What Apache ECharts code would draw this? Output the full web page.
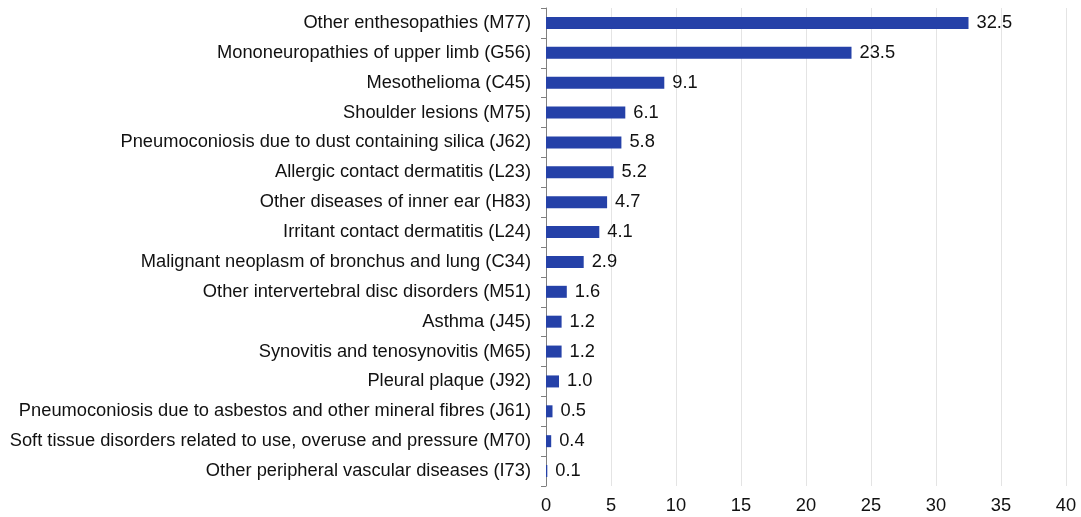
<!DOCTYPE html>
<html>
<head>
<meta charset="utf-8">
<script src="https://cdn.jsdelivr.net/npm/echarts@6/dist/echarts.min.js"></script>
<style>
  html, body { margin: 0; padding: 0; background: #fff; }
  #chart { width: 1081px; height: 517px; }
</style>
</head>
<body>
<div id="chart"></div>
<script>
const categories = [
    'Other enthesopathies (M77)',
    'Mononeuropathies of upper limb (G56)',
    'Mesothelioma (C45)',
    'Shoulder lesions (M75)',
    'Pneumoconiosis due to dust containing silica (J62)',
    'Allergic contact dermatitis (L23)',
    'Other diseases of inner ear (H83)',
    'Irritant contact dermatitis (L24)',
    'Malignant neoplasm of bronchus and lung (C34)',
    'Other intervertebral disc disorders (M51)',
    'Asthma (J45)',
    'Synovitis and tenosynovitis (M65)',
    'Pleural plaque (J92)',
    'Pneumoconiosis due to asbestos and other mineral fibres (J61)',
    'Soft tissue disorders related to use, overuse and pressure (M70)',
    'Other peripheral vascular diseases (I73)'
];
const values = [32.5, 23.5, 9.1, 6.1, 5.8, 5.2, 4.7, 4.1, 2.9, 1.6, 1.2, 1.2, 1.0, 0.5, 0.4, 0.1];

const myChart = echarts.init(document.getElementById('chart'));

const option = {
    animation: false,
    textStyle: { fontFamily: 'Liberation Sans, Arial, sans-serif' },
    grid: { left: 546, right: 15, top: 8, bottom: 31, containLabel: false },
    xAxis: {
        type: 'value',
        min: 0,
        max: 40,
        interval: 5,
        axisLine: { show: false },
        axisTick: { show: false },
        splitLine: { show: true, lineStyle: { color: '#e4e4e4', width: 1 } },
        axisLabel: { color: '#111', fontSize: 18.3, margin: 11 }
    },
    yAxis: {
        type: 'category',
        inverse: true,
        data: categories,
        axisLine: { show: true, lineStyle: { color: '#7f7f7f', width: 1 } },
        axisTick: { show: true, length: 5, lineStyle: { color: '#7f7f7f' } },
        axisLabel: { color: '#111', fontSize: 18.3, margin: 15 }
    },
    series: [{
        type: 'bar',
        data: values,
        barWidth: 12,
        itemStyle: { color: '#2541a8' },
        label: {
            show: true,
            position: 'right',
            distance: 8,
            color: '#111',
            fontSize: 18.3,
            formatter: p => p.value.toFixed(1)
        }
    }]
};

myChart.setOption(option);
</script>
</body>
</html>
